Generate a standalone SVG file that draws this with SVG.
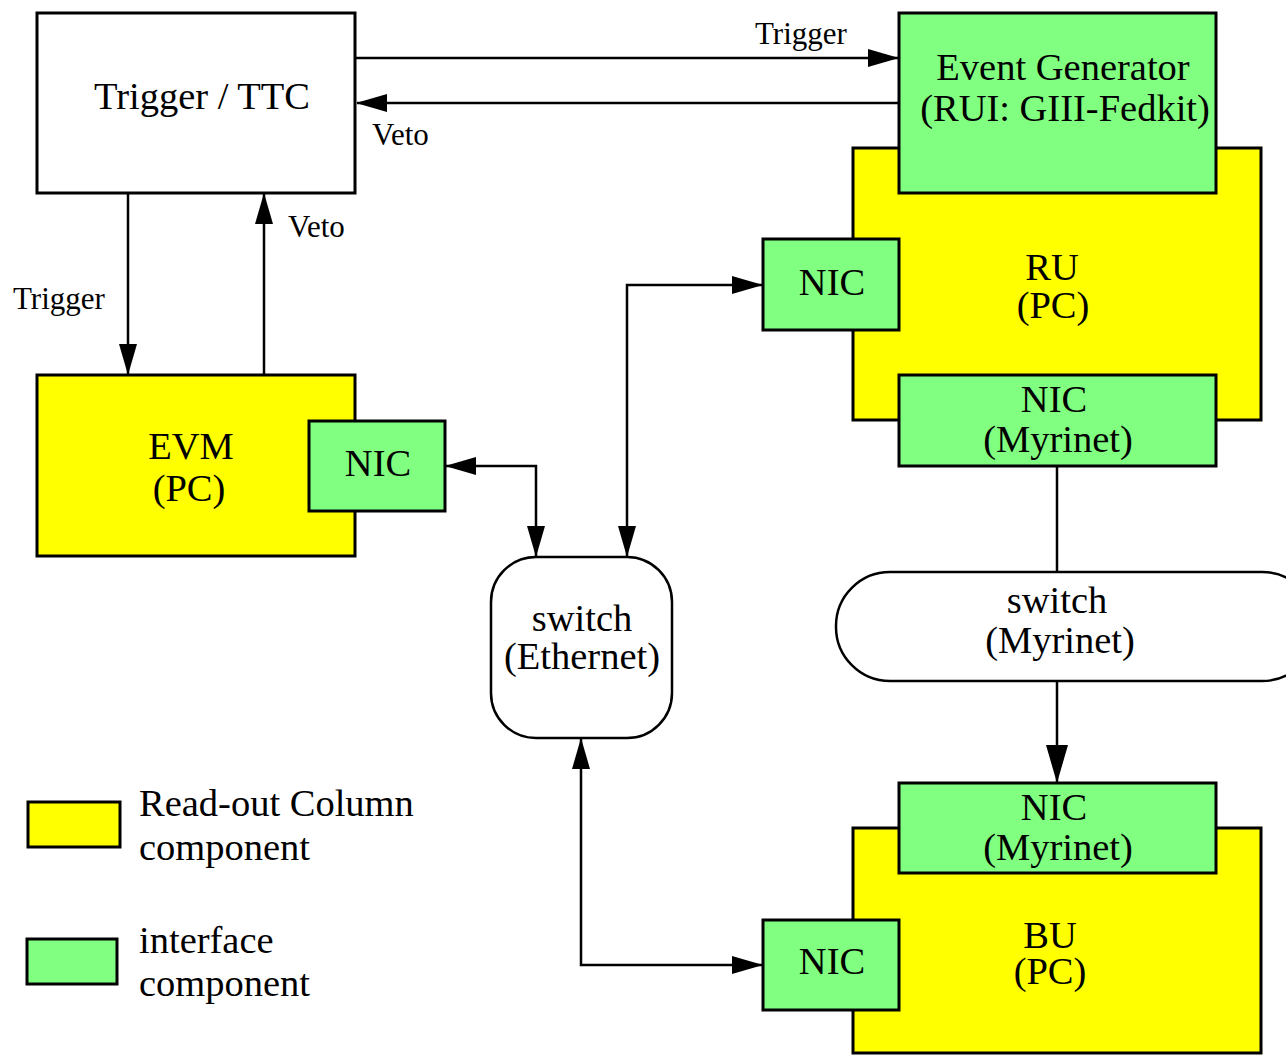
<svg xmlns="http://www.w3.org/2000/svg" width="1286" height="1055" viewBox="0 0 1286 1055">
<defs>
<style>
.box{stroke:#000;stroke-width:3}
.yel{fill:#ffff00}
.grn{fill:#80ff80}
.wht{fill:#fff}
.t{font-family:"Liberation Serif","Times New Roman",serif;font-size:38.5px;fill:#000;text-anchor:middle}
.s{font-family:"Liberation Serif","Times New Roman",serif;font-size:31px;fill:#000}
.lg{font-family:"Liberation Serif","Times New Roman",serif;font-size:38.5px;fill:#000}
.c{stroke:#000;stroke-width:2.5;fill:none}
</style>
<marker id="ah" markerUnits="userSpaceOnUse" markerWidth="31" markerHeight="18" refX="30" refY="9" orient="auto-start-reverse">
<path d="M0,0 L31,9 L0,18 z" fill="#000"/>
</marker>
<marker id="big" markerUnits="userSpaceOnUse" markerWidth="38" markerHeight="22" refX="37" refY="11" orient="auto">
<path d="M0,0 L38,11 L0,22 z" fill="#000"/>
</marker>
</defs>
<rect width="1286" height="1055" fill="#fff"/>

<g id="connectors">
<line class="c" x1="355" y1="58" x2="898" y2="58" marker-end="url(#ah)"/>
<line class="c" x1="899" y1="103" x2="357" y2="103" marker-end="url(#ah)"/>
<line class="c" x1="128" y1="193" x2="128" y2="374" marker-end="url(#ah)"/>
<line class="c" x1="264" y1="375" x2="264" y2="194" marker-end="url(#ah)"/>
<path class="c" d="M446,466 H536 V556" marker-start="url(#ah)" marker-end="url(#ah)"/>
<path class="c" d="M762,285 H627 V556" marker-start="url(#ah)" marker-end="url(#ah)"/>
<path class="c" d="M581,739 V965 H762" marker-start="url(#ah)" marker-end="url(#ah)"/>
<line class="c" x1="1057" y1="466" x2="1057" y2="572"/>
<line class="c" x1="1057" y1="681" x2="1057" y2="782" marker-end="url(#big)"/>
<text class="s" x="755" y="44">Trigger</text>
<text class="s" x="372" y="145">Veto</text>
<text class="s" x="13" y="309">Trigger</text>
<text class="s" x="288" y="237">Veto</text>
</g>

<g id="trigger-ttc">
<rect class="box wht" x="37" y="13" width="318" height="180"/>
<text class="t" x="202" y="109">Trigger / TTC</text>
</g>

<g id="ru">
<rect class="box yel" x="853" y="148" width="408" height="272"/>
<text class="t" x="1052" y="280">RU</text>
<text class="t" x="1053" y="318">(PC)</text>
</g>

<g id="event-generator">
<rect class="box grn" x="899" y="13" width="317" height="180"/>
<text class="t" x="1063" y="80">Event Generator</text>
<text class="t" x="1065" y="121">(RUI: GIII-Fedkit)</text>
</g>

<g id="ru-nic">
<rect class="box grn" x="763" y="239" width="136" height="91"/>
<text class="t" x="832" y="295">NIC</text>
</g>

<g id="ru-nic-myrinet">
<rect class="box grn" x="899" y="375" width="317" height="91"/>
<text class="t" x="1054" y="412">NIC</text>
<text class="t" x="1058" y="452">(Myrinet)</text>
</g>

<g id="evm">
<rect class="box yel" x="37" y="375" width="318" height="181"/>
<text class="t" x="191" y="459">EVM</text>
<text class="t" x="189" y="501">(PC)</text>
</g>

<g id="evm-nic">
<rect class="box grn" x="309" y="421" width="136" height="90"/>
<text class="t" x="378" y="476">NIC</text>
</g>

<g id="switch-ethernet">
<rect class="box wht" x="491" y="557" width="181" height="181" rx="45" ry="45" style="stroke-width:2.5"/>
<text class="t" x="582" y="631">switch</text>
<text class="t" x="582" y="669">(Ethernet)</text>
</g>

<g id="switch-myrinet">
<rect class="box wht" x="836" y="572" width="480" height="109" rx="54" ry="54" style="stroke-width:2.5"/>
<text class="t" x="1057" y="613">switch</text>
<text class="t" x="1060" y="653">(Myrinet)</text>
</g>

<g id="bu">
<rect class="box yel" x="853" y="828" width="408" height="225"/>
<text class="t" x="1050" y="948">BU</text>
<text class="t" x="1050" y="984">(PC)</text>
</g>

<g id="bu-nic-myrinet">
<rect class="box grn" x="899" y="783" width="317" height="90"/>
<text class="t" x="1054" y="820">NIC</text>
<text class="t" x="1058" y="860">(Myrinet)</text>
</g>

<g id="bu-nic">
<rect class="box grn" x="763" y="920" width="136" height="90"/>
<text class="t" x="832" y="974">NIC</text>
</g>

<g id="legend">
<rect class="box yel" x="28" y="802" width="92" height="45"/>
<text class="lg" x="139" y="816">Read-out Column</text>
<text class="lg" x="139" y="860">component</text>
<rect class="box grn" x="27" y="939" width="90" height="45"/>
<text class="lg" x="139" y="953">interface</text>
<text class="lg" x="139" y="996">component</text>
</g>
</svg>
